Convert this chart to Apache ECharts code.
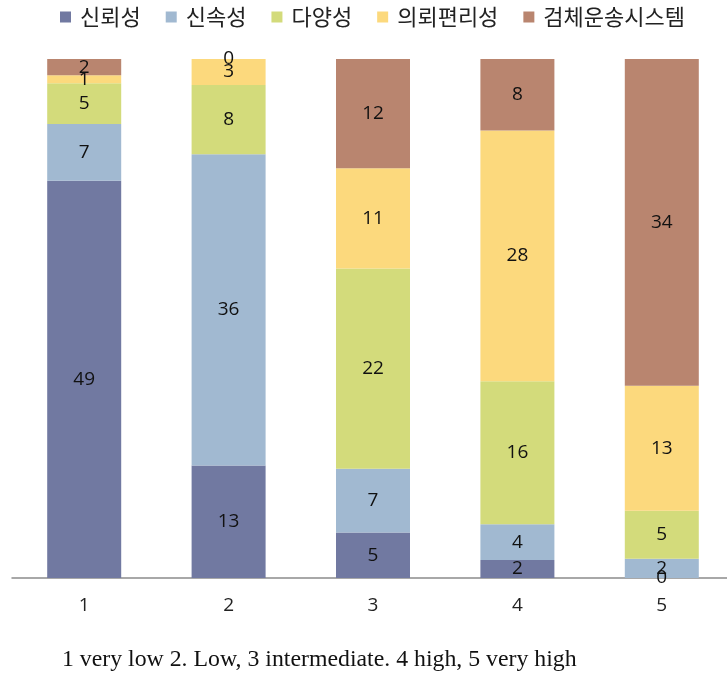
<!DOCTYPE html>
<html>
<head>
<meta charset="utf-8">
<script src="https://cdn.jsdelivr.net/npm/echarts@6/dist/echarts.min.js"></script>
<style>
  html, body { margin: 0; padding: 0; background: #fff; }
  #chart { width: 727px; height: 676px; }
</style>
</head>
<body>
<div id="chart"></div>
<script>
const categories = ["1", "2", "3", "4", "5"];
const seriesNames = ["신뢰성", "신속성", "다양성", "의뢰편리성", "검체운송시스템"];
const reliability = [49, 13, 5, 2, 0];
const speed = [7, 36, 7, 4, 2];
const variety = [5, 8, 22, 16, 5];
const convenience = [1, 3, 11, 28, 13];
const transport = [2, 0, 12, 8, 34];
const colors = ["#7179a1", "#a1b9d1", "#d3db7b", "#fcd97d", "#b9856f"];

const allValues = [reliability, speed, variety, convenience, transport];
const totals = categories.map((_, i) => allValues.reduce((s, arr) => s + arr[i], 0));

const chart = echarts.init(document.getElementById("chart"));
chart.setOption({
  animation: false,
  color: colors,
  legend: {
    top: 1,
    left: 55,
    itemWidth: 11,
    itemHeight: 11,
    itemGap: 25,
    icon: "rect",
    textStyle: { fontFamily: "Noto Sans CJK KR", fontSize: 22, color: "#222", padding: [0, 0, 0, 4] },
    data: seriesNames
  },
  grid: { left: 12, width: 722, top: 59, bottom: 98, outerBoundsMode: "none" },
  xAxis: {
    type: "category",
    data: categories,
    axisTick: { show: false },
    axisLine: { lineStyle: { color: "#8c8c8c", width: 1.5 } },
    axisLabel: { color: "#222", fontSize: 19, fontFamily: "Open Sans", margin: 18 }
  },
  yAxis: { type: "value", min: 0, max: 100, show: false, splitLine: { show: false } },
  series: allValues.map((values, s) => ({
    name: seriesNames[s],
    type: "bar",
    stack: "total",
    barWidth: 74,
    data: values.map((v, i) => v / totals[i] * 100),
    label: {
      show: true,
      position: "inside",
      color: "#111",
      fontSize: 19,
      fontFamily: "Open Sans",
      formatter: p => String(values[p.dataIndex])
    }
  })),
  graphic: [{
    type: "text",
    left: 62,
    top: 648,
    style: {
      text: "1 very low 2. Low, 3 intermediate. 4 high, 5 very high",
      font: "23.8px 'Liberation Serif'",
      fill: "#111"
    }
  }]
});
</script>
</body>
</html>
